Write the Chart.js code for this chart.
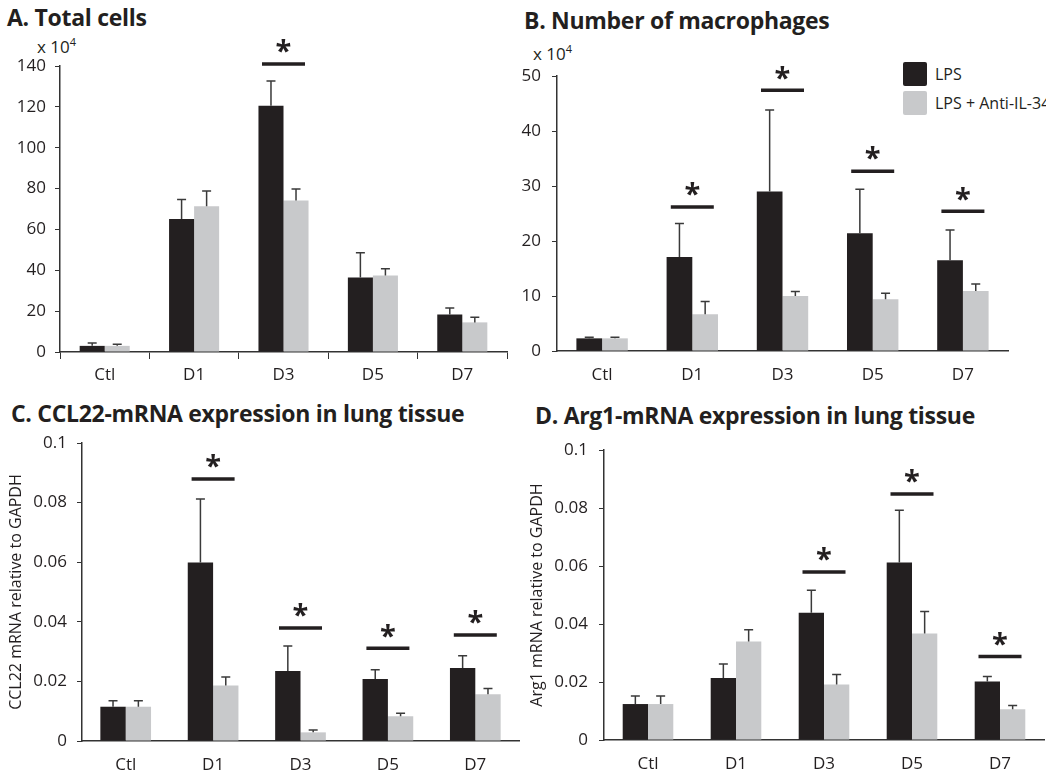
<!DOCTYPE html>
<html>
<head>
<meta charset="utf-8">
<script src="https://cdn.jsdelivr.net/npm/chart.js@4"></script>
<style>
  body { margin: 0; background: #fff; }
  #page { position: relative; width: 1046px; height: 774px; overflow: hidden; font-family: "Open Sans", sans-serif; color: #231f20; }
  .panel { position: absolute; }
  .title { position: absolute; font-weight: bold; font-size: 23px; white-space: nowrap; letter-spacing: -0.3px; }
  .unit { position: absolute; font-size: 17px; white-space: nowrap; }
  .unit sup { font-size: 11px; }
  .legend { position: absolute; left: 903px; top: 62px; font-size: 16px; white-space: nowrap; }
  .legend div { height: 29px; line-height: 24px; }
  .legend span { display: inline-block; width: 24px; height: 24px; border-radius: 2px; vertical-align: top; margin-right: 8px; }
</style>
</head>
<body>
<div id="page">
  <div class="title" style="left:7px; top:1px;">A. Total cells</div>
  <div class="title" style="left:524px; top:4px;">B. Number of macrophages</div>
  <div class="title" style="left:11px; top:397px;">C. CCL22-mRNA expression in lung tissue</div>
  <div class="title" style="left:535px; top:399px;">D. Arg1-mRNA expression in lung tissue</div>
  <div class="unit" style="left:37px; top:34px;">x 10<sup>4</sup></div>
  <div class="unit" style="left:533px; top:41px;">x 10<sup>4</sup></div>
  <div class="legend">
    <div><span style="background:#231f20"></span>LPS</div>
    <div><span style="background:#c8c9cb"></span>LPS + Anti-IL-34</div>
  </div>
  <canvas class="panel" id="chartA" width="520" height="390" style="left:0; top:0;"></canvas>
  <canvas class="panel" id="chartB" width="526" height="390" style="left:520px; top:0;"></canvas>
  <canvas class="panel" id="chartC" width="520" height="384" style="left:0; top:390px;"></canvas>
  <canvas class="panel" id="chartD" width="526" height="384" style="left:520px; top:390px;"></canvas>
</div>
<script>
// Categories shared by all panels
const categories = ['Ctl', 'D1', 'D3', 'D5', 'D7'];
const seriesNames = ['LPS', 'LPS + Anti-IL-34'];

// A. Total cells (x 10^4)
const totalLps = [3, 65.1, 120.6, 36.5, 18.4];
const totalLpsErr = [1.4, 9.6, 12, 12.1, 3.1];
const totalAnti = [3, 71.3, 74.2, 37.4, 14.5];
const totalAntiErr = [0.8, 7.5, 5.6, 3.4, 2.5];
const totalSig = [null, null, 141, null, null];

// B. Number of macrophages (x 10^4)
const macLps = [2.3, 17.1, 29.0, 21.4, 16.5];
const macLpsErr = [0.2, 6.1, 14.8, 8.0, 5.5];
const macAnti = [2.3, 6.7, 10.0, 9.4, 10.9];
const macAntiErr = [0.2, 2.3, 0.8, 1.1, 1.3];
const macSig = [null, 26.2, 47.4, 32.7, 25.4];

// C. CCL22 mRNA relative to GAPDH
const cclLps = [0.0115, 0.0599, 0.0235, 0.0208, 0.0245];
const cclLpsErr = [0.002, 0.0213, 0.0084, 0.0031, 0.0041];
const cclAnti = [0.0115, 0.0186, 0.0029, 0.0083, 0.0157];
const cclAntiErr = [0.002, 0.0029, 0.0008, 0.001, 0.0019];
const cclSig = [null, 0.0879, 0.0379, 0.0311, 0.0356];

// D. Arg1 mRNA relative to GAPDH
const argLps = [0.0124, 0.0214, 0.0439, 0.0612, 0.0202];
const argLpsErr = [0.0028, 0.0048, 0.0077, 0.018, 0.0017];
const argAnti = [0.0124, 0.034, 0.0191, 0.0367, 0.0106];
const argAntiErr = [0.0028, 0.004, 0.0035, 0.0076, 0.0013];
const argSig = [null, null, 0.0579, 0.0848, 0.0288];

const darkColor = '#231f20';
const greyColor = '#c8c9cb';

Chart.defaults.font.family = "'Open Sans', sans-serif";
Chart.defaults.font.size = 17;
Chart.defaults.color = darkColor;

// error bars (upper only) and significance lines with stars
const marksPlugin = {
    id: 'marks',
    afterDatasetsDraw(chart, args, opts) {
        const ctx = chart.ctx;
        const yScale = chart.scales.y;
        const xScale = chart.scales.x;
        ctx.save();
        opts.errors.forEach(function(errs, di) {
            const meta = chart.getDatasetMeta(di);
            const values = chart.data.datasets[di].data;
            meta.data.forEach(function(bar, i) {
                const yTop = yScale.getPixelForValue(values[i]);
                const yErr = yScale.getPixelForValue(values[i] + errs[i]);
                ctx.strokeStyle = '#3a3a3a';
                ctx.lineWidth = 1.5;
                ctx.beginPath();
                ctx.moveTo(bar.x, yTop);
                ctx.lineTo(bar.x, yErr);
                ctx.moveTo(bar.x - 4.5, yErr);
                ctx.lineTo(bar.x + 4.5, yErr);
                ctx.stroke();
            });
        });
        opts.sig.forEach(function(v, i) {
            if (v === null) return;
            const cx = xScale.getPixelForValue(i);
            const y = yScale.getPixelForValue(v);
            ctx.strokeStyle = darkColor;
            ctx.lineWidth = 3.5;
            ctx.beginPath();
            ctx.moveTo(cx - 21.5, y);
            ctx.lineTo(cx + 21.5, y);
            ctx.stroke();
            ctx.fillStyle = darkColor;
            ctx.font = "bold 29px 'Open Sans', sans-serif";
            ctx.textAlign = 'center';
            ctx.textBaseline = 'middle';
            ctx.fillText('*', cx, y - 11);
        });
        ctx.restore();
    }
};

function makeChart(id, p) {
    const ctx = document.getElementById(id).getContext('2d');
    return new Chart(ctx, {
        type: 'bar',
        data: {
            labels: categories,
            datasets: [
                { label: seriesNames[0], data: p.lps, backgroundColor: darkColor, borderWidth: 0 },
                { label: seriesNames[1], data: p.anti, backgroundColor: greyColor, borderWidth: 0 }
            ]
        },
        options: {
            responsive: false,
            animation: false,
            devicePixelRatio: 1,
            categoryPercentage: p.catPct,
            barPercentage: 1,
            layout: { padding: p.padding },
            scales: {
                x: {
                    grid: {
                        display: p.xTicks,
                        drawOnChartArea: false,
                        drawTicks: p.xTicks,
                        tickLength: 7,
                        color: '#333',
                        offset: true
                    },
                    border: { display: true, color: '#333', width: 1.5 },
                    ticks: { color: darkColor, font: { size: 17 }, padding: p.xPad },
                    afterFit: function(s) { s.height = p.xHeight; }
                },
                y: {
                    min: 0,
                    max: p.max,
                    ticks: {
                        stepSize: p.step,
                        color: darkColor,
                        font: { size: 17 },
                        padding: p.yPad,
                        callback: function(v) { return p.fmt ? p.fmt(v) : v; }
                    },
                    grid: { drawOnChartArea: false, tickLength: 5, color: '#333' },
                    border: { display: true, color: '#333', width: 1.5 },
                    title: p.yTitle ? {
                        display: true,
                        text: p.yTitle,
                        color: darkColor,
                        font: { size: 16 },
                        padding: { top: p.yTitlePad, bottom: 0 }
                    } : { display: false },
                    afterFit: function(s) { s.width = p.yWidth; }
                }
            },
            plugins: {
                legend: { display: false },
                tooltip: { enabled: false },
                marks: { errors: p.errors, sig: p.sig }
            }
        },
        plugins: [marksPlugin]
    });
}

function fmtRatio(v) {
    return v === 0 ? '0' : String(Math.round(v * 100) / 100);
}

makeChart('chartA', {
    lps: totalLps, anti: totalAnti, errors: [totalLpsErr, totalAntiErr], sig: totalSig,
    max: 140, step: 20, catPct: 0.56,
    padding: { top: 66, right: 13, left: 0, bottom: 0 },
    yWidth: 60, xHeight: 38, xTicks: true, xPad: 6, yPad: 9
});

makeChart('chartB', {
    lps: macLps, anti: macAnti, errors: [macLpsErr, macAntiErr], sig: macSig,
    max: 50, step: 10, catPct: 0.57,
    padding: { top: 76, right: 38, left: 0, bottom: 0 },
    yWidth: 37, xHeight: 39, xTicks: false, xPad: 14, yPad: 11
});

makeChart('chartC', {
    lps: cclLps, anti: cclAnti, errors: [cclLpsErr, cclAntiErr], sig: cclSig,
    max: 0.1, step: 0.02, catPct: 0.58, fmt: fmtRatio,
    yTitle: 'CCL22 mRNA relative to GAPDH', yTitlePad: 7,
    padding: { top: 53, right: 1, left: 0, bottom: 0 },
    yWidth: 82, xHeight: 33, xTicks: false, xPad: 14, yPad: 10
});

makeChart('chartD', {
    lps: argLps, anti: argAnti, errors: [argLpsErr, argAntiErr], sig: argSig,
    max: 0.1, step: 0.02, catPct: 0.575, fmt: fmtRatio,
    yTitle: 'Arg1 mRNA relative to GAPDH', yTitlePad: 8,
    padding: { top: 60, right: 2, left: 0, bottom: 0 },
    yWidth: 84, xHeight: 34, xTicks: false, xPad: 14, yPad: 11
});
</script>
</body>
</html>
